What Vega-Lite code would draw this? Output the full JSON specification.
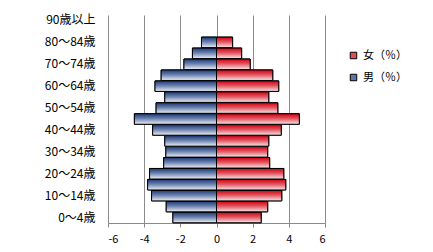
{
  "$schema": "https://vega.github.io/schema/vega-lite/v6.json",
  "autosize": "none",
  "width": 217,
  "height": 208,
  "padding": {"left": 108, "top": 15, "right": 108, "bottom": 29},
  "background": "white",
  "config": {
    "view": {"stroke": null},
    "font": "Noto Sans CJK JP"
  },
  "data": {
    "values": [
      {"age": "0～4歳", "sex": "男（％）", "value": -2.41},
      {"age": "5～9歳", "sex": "男（％）", "value": -2.78},
      {"age": "10～14歳", "sex": "男（％）", "value": -3.59},
      {"age": "15～19歳", "sex": "男（％）", "value": -3.81},
      {"age": "20～24歳", "sex": "男（％）", "value": -3.70},
      {"age": "25～29歳", "sex": "男（％）", "value": -2.92},
      {"age": "30～34歳", "sex": "男（％）", "value": -2.80},
      {"age": "35～39歳", "sex": "男（％）", "value": -2.86},
      {"age": "40～44歳", "sex": "男（％）", "value": -3.53},
      {"age": "45～49歳", "sex": "男（％）", "value": -4.54},
      {"age": "50～54歳", "sex": "男（％）", "value": -3.34},
      {"age": "55～59歳", "sex": "男（％）", "value": -2.86},
      {"age": "60～64歳", "sex": "男（％）", "value": -3.40},
      {"age": "65～69歳", "sex": "男（％）", "value": -3.06},
      {"age": "70～74歳", "sex": "男（％）", "value": -1.80},
      {"age": "75～79歳", "sex": "男（％）", "value": -1.33},
      {"age": "80～84歳", "sex": "男（％）", "value": -0.83},
      {"age": "0～4歳", "sex": "女（％）", "value": 2.47},
      {"age": "5～9歳", "sex": "女（％）", "value": 2.83},
      {"age": "10～14歳", "sex": "女（％）", "value": 3.61},
      {"age": "15～19歳", "sex": "女（％）", "value": 3.83},
      {"age": "20～24歳", "sex": "女（％）", "value": 3.72},
      {"age": "25～29歳", "sex": "女（％）", "value": 2.94},
      {"age": "30～34歳", "sex": "女（％）", "value": 2.83},
      {"age": "35～39歳", "sex": "女（％）", "value": 2.89},
      {"age": "40～44歳", "sex": "女（％）", "value": 3.58},
      {"age": "45～49歳", "sex": "女（％）", "value": 4.58},
      {"age": "50～54歳", "sex": "女（％）", "value": 3.39},
      {"age": "55～59歳", "sex": "女（％）", "value": 2.89},
      {"age": "60～64歳", "sex": "女（％）", "value": 3.44},
      {"age": "65～69歳", "sex": "女（％）", "value": 3.11},
      {"age": "70～74歳", "sex": "女（％）", "value": 1.86},
      {"age": "75～79歳", "sex": "女（％）", "value": 1.39},
      {"age": "80～84歳", "sex": "女（％）", "value": 0.89}
    ]
  },
  "encoding": {
    "y": {
      "field": "age",
      "type": "nominal",
      "scale": {
        "domain": ["90歳以上", "85～89歳", "80～84歳", "75～79歳", "70～74歳", "65～69歳", "60～64歳", "55～59歳", "50～54歳", "45～49歳", "40～44歳", "35～39歳", "30～34歳", "25～29歳", "20～24歳", "15～19歳", "10～14歳", "5～9歳", "0～4歳"],
        "paddingInner": 0.04,
        "paddingOuter": 0.02
      },
      "axis": {
        "title": null,
        "values": ["90歳以上", "80～84歳", "70～74歳", "60～64歳", "50～54歳", "40～44歳", "30～34歳", "20～24歳", "10～14歳", "0～4歳"],
        "ticks": false,
        "domain": false,
        "labelPadding": 13,
        "labelFontSize": 12,
        "labelColor": "black",
        "labelFont": "Noto Sans CJK JP"
      }
    },
    "x": {
      "field": "value",
      "type": "quantitative",
      "scale": {"domain": [-6, 6], "nice": false},
      "axis": {
        "title": null,
        "values": [-6, -4, -2, 0, 2, 4, 6],
        "labelExpr": "replace(datum.label, '−', '-')",
        "grid": true,
        "gridColor": "#8a8a8a",
        "gridOpacity": 1,
        "domainColor": "#8a8a8a",
        "tickColor": "#8a8a8a",
        "tickSize": 4,
        "labelPadding": 6,
        "labelFontSize": 11,
        "labelColor": "black",
        "labelFont": "Noto Sans CJK JP"
      }
    }
  },
  "layer": [
    {
      "mark": {"type": "bar", "stroke": "black", "strokeWidth": 1, "opacity": 1},
      "encoding": {
        "color": {
          "field": "sex",
          "type": "nominal",
          "scale": {"domain": ["女（％）", "男（％）"], "range": ["#e0505c", "#5f75a6"]},
          "legend": {
            "title": null,
            "orient": "none",
            "legendX": 240,
            "legendY": 35,
            "padding": 0,
            "symbolType": "square",
            "symbolSize": 42,
            "symbolStrokeColor": "black",
            "symbolStrokeWidth": 1,
            "symbolOpacity": 1,
            "labelFontSize": 11,
            "labelColor": "black",
            "labelFont": "Noto Sans CJK JP",
            "labelOffset": 4,
            "rowPadding": 10
          }
        }
      }
    },
    {
      "transform": [{"filter": "datum.sex === '男（％）'"}],
      "mark": {
        "type": "bar", "stroke": "black", "strokeWidth": 1, "opacity": 1,
        "fill": {"gradient": "linear", "x1": 0, "y1": 0, "x2": 0, "y2": 1, "stops": [{"offset": 0, "color": "#1c3a78"}, {"offset": 0.45, "color": "#6a80ad"}, {"offset": 1, "color": "#eef0f6"}]}
      }
    },
    {
      "transform": [{"filter": "datum.sex === '女（％）'"}],
      "mark": {
        "type": "bar", "stroke": "black", "strokeWidth": 1, "opacity": 1,
        "fill": {"gradient": "linear", "x1": 0, "y1": 0, "x2": 0, "y2": 1, "stops": [{"offset": 0, "color": "#d40012"}, {"offset": 0.45, "color": "#e05560"}, {"offset": 1, "color": "#f6e8e8"}]}
      }
    }
  ]
}
